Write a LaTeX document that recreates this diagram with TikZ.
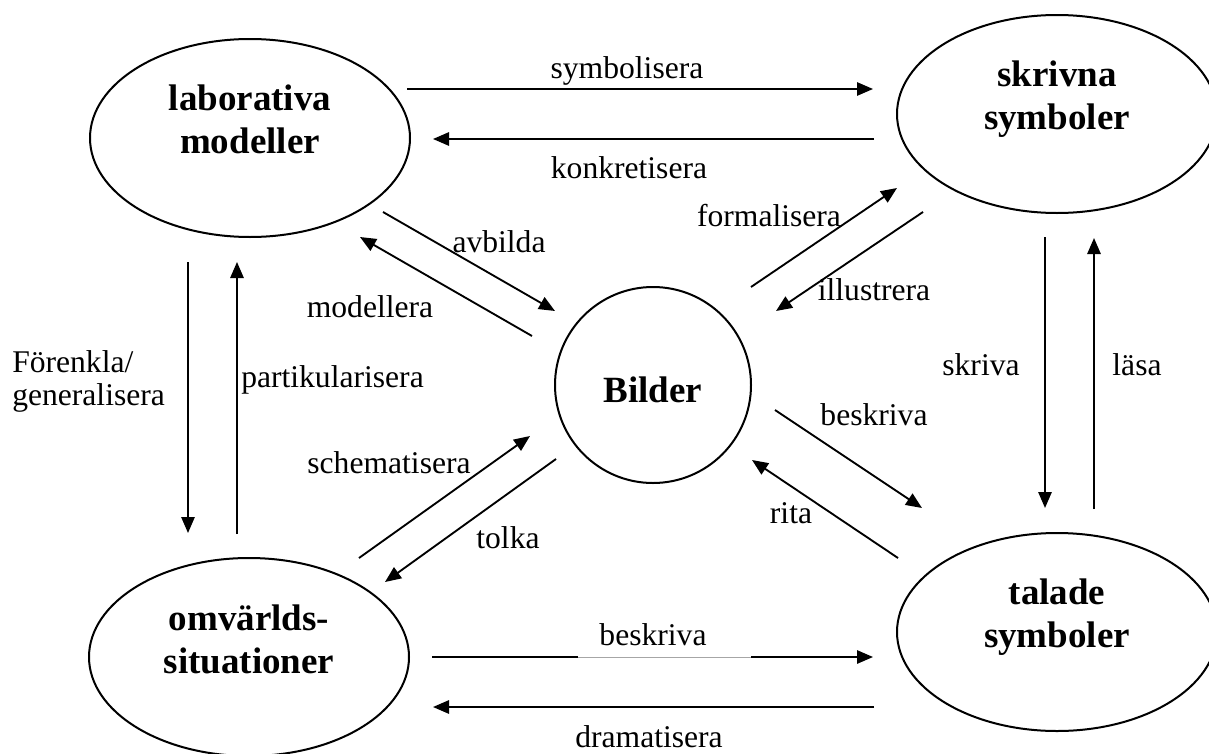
\documentclass[tikz,border=0pt]{standalone}
\usepackage{fontspec}
\setmainfont{Liberation Serif}
\usetikzlibrary{arrows.meta,shapes.geometric}
\begin{document}
\begin{tikzpicture}[x=0.75pt,y=-0.75pt,
  blob/.style={draw, ellipse, line width=1.5pt, minimum width=240pt, minimum height=148.5pt, inner sep=0pt},
  ball/.style={draw, circle, line width=1.5pt, minimum size=147pt, inner sep=0pt},
  btxt/.style={font=\bfseries\fontsize{27.75}{32.25}\selectfont, align=center, inner sep=0pt},
  lbl/.style={font=\fontsize{23.7}{24.75}\selectfont, inner sep=0pt, anchor=base},
  conn/.style={line width=1.4pt, -{Triangle[length=12pt,width=10pt]}}]
\useasboundingbox (0,0) rectangle (1209,753);
\clip (0,0) rectangle (1209,753);
\fill[white] (0,0) rectangle (1209,753);

% main nodes
\node[blob] (lab) at (250,138) {};
\node[blob] (skr) at (1057,114) {};
\node[blob] (omv) at (249,657) {};
\node[blob] (tal) at (1057,632) {};
\node[ball] (bil) at (653,385) {};

\node[btxt] (labt) at (250,119) {laborativa\\modeller};
\node[btxt] (skrt) at (1057,99) {skrivna\\symboler};
\node[btxt] (omvt) at (249,639) {omvärlds-\\situationer};
\node[btxt] (talt) at (1057,617) {talade\\symboler};
\node[btxt, anchor=base] (bilt) at (653,402) {Bilder};

% connector end points
\coordinate (sy1) at (407,89);  \coordinate (sy2) at (873,89);
\coordinate (ko1) at (874,139); \coordinate (ko2) at (433,139);
\coordinate (av1) at (383,212); \coordinate (av2) at (555,311);
\coordinate (mo1) at (532,336); \coordinate (mo2) at (360,237);
\coordinate (fo1) at (751,287); \coordinate (fo2) at (897,188);
\coordinate (il1) at (923,212); \coordinate (il2) at (776,311);
\coordinate (bd1) at (775,410); \coordinate (bd2) at (922,508);
\coordinate (ri1) at (898,558); \coordinate (ri2) at (752,460);
\coordinate (sc1) at (359,558); \coordinate (sc2) at (530,436);
\coordinate (to1) at (556,459); \coordinate (to2) at (385,582);
\coordinate (fe1) at (188,262); \coordinate (fe2) at (188,533);
\coordinate (pa1) at (237,534); \coordinate (pa2) at (237,262);
\coordinate (sk1) at (1045,237); \coordinate (sk2) at (1045,508);
\coordinate (la1) at (1094,509); \coordinate (la2) at (1094,238);
\coordinate (bb1) at (432,657); \coordinate (bb2) at (873,657);
\coordinate (dr1) at (874,707); \coordinate (dr2) at (433,707);

\draw[conn] (sy1) -- (sy2);
\draw[conn] (ko1) -- (ko2);
\draw[conn] (av1) -- (av2);
\draw[conn] (mo1) -- (mo2);
\draw[conn] (fo1) -- (fo2);
\draw[conn] (il1) -- (il2);
\draw[conn] (bd1) -- (bd2);
\draw[conn] (ri1) -- (ri2);
\draw[conn] (sc1) -- (sc2);
\draw[conn] (to1) -- (to2);
\draw[conn] (fe1) -- (fe2);
\draw[conn] (pa1) -- (pa2);
\draw[conn] (sk1) -- (sk2);
\draw[conn] (la1) -- (la2);
\draw[conn] (bb1) -- (bb2);
\draw[conn] (dr1) -- (dr2);
% thin middle part of the lower "beskriva" arrow
\fill[white] (578,652) rectangle (751,662);
\draw[gray!70, line width=0.6pt] (578,657) -- (751,657);

% labels
\node[lbl] (lsy) at (627,78) {symbolisera};
\node[lbl] (lko) at (629,178) {konkretisera};
\node[lbl] (lav) at (499,252) {avbilda};
\node[lbl] (lmo) at (370,317) {modellera};
\node[lbl] (lfo) at (769,226) {formalisera};
\node[lbl] (lil) at (874,300) {illustrera};
\node[lbl] (lbd) at (874,425) {beskriva};
\node[lbl] (lri) at (791,523) {rita};
\node[lbl] (lsc) at (389,473) {schematisera};
\node[lbl] (lto) at (508,548) {tolka};
\node[lbl, anchor=west, align=left] (lfe) at (12,381) {Förenkla/\\generalisera};
\node[lbl, anchor=base west] (lpa) at (241,387) {partikularisera};
\node[lbl] (lsk) at (981,375) {skriva};
\node[lbl] (lla) at (1137,375) {läsa};
\node[lbl] (lbb) at (653,645) {beskriva};
\node[lbl] (ldr) at (649,747) {dramatisera};
\end{tikzpicture}
\end{document}
